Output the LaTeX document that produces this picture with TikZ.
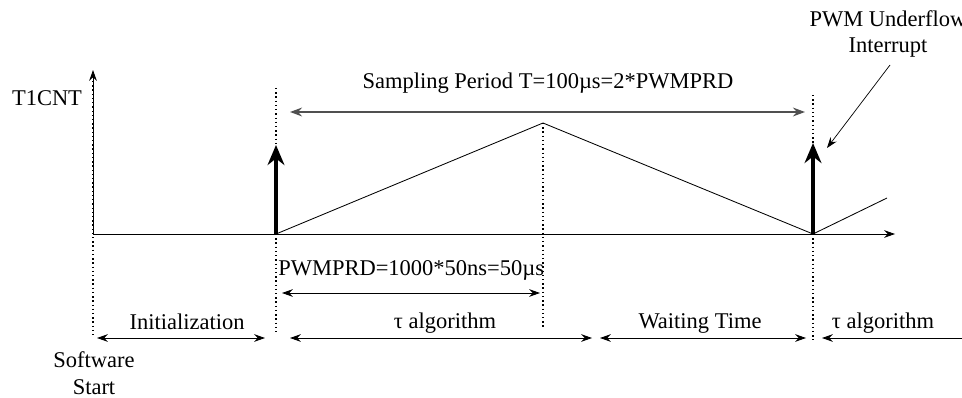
\documentclass[tikz,border=0pt]{standalone}
\usepackage{fontspec}
\setmainfont{Liberation Serif}
\usetikzlibrary{arrows.meta}
\definecolor{periodgray}{RGB}{80,80,80}

\begin{document}
\begin{tikzpicture}[x=1cm,y=1cm,line join=round,
    font=\fontsize{16}{19}\selectfont,
    span/.style={{Stealth[length=0.27cm,width=0.19cm]}-{Stealth[length=0.27cm,width=0.19cm]},line width=0.6pt},
    guide/.style={dotted,line width=1pt},
    pulse/.style={-{Stealth[length=0.5cm,width=0.42cm]},line width=2.8pt}]
    \useasboundingbox (0,0) rectangle (24.05,9.925);

    % Puntos de referencia
    \coordinate (O) at (2.325,4.075);
    \coordinate (xend) at (22.375,4.075);
    \coordinate (yend) at (2.325,8.175);
    \coordinate (A0) at (6.90,4.075);
    \coordinate (A1) at (6.90,6.30);
    \coordinate (Atop) at (6.90,7.725);
    \coordinate (B0) at (20.325,4.075);
    \coordinate (B1) at (20.325,6.35);
    \coordinate (Btop) at (20.325,7.55);
    \coordinate (peak) at (13.575,6.85);
    \coordinate (tail) at (22.175,4.975);

    % Ejes
    \draw[line width=0.6pt,-{Stealth[length=0.27cm,width=0.19cm]}] (O) -- (xend);
    \draw[line width=0.6pt,-{Stealth[length=0.27cm,width=0.19cm]}] (O) -- (yend);
    \node (cnt) at (1.175,7.475) {T1CNT};

    % Contador triangular
    \draw[line width=0.6pt] (A0) -- (peak) -- (B0) -- (tail);

    % Lineas guia
    \draw[guide] (2.325,7.90) -- (2.325,1.55);
    \draw[guide] (Atop) -- (A1);
    \draw[guide] (A0) -- (6.90,1.55);
    \draw[guide] (peak) -- (13.575,1.725);
    \draw[guide] (Btop) -- (B1);
    \draw[guide] (B0) -- (20.325,1.425);

    % Interrupciones
    \draw[pulse] (A0) -- (A1);
    \draw[pulse] (B0) -- (B1);
    \node[align=center,inner sep=1pt] (irq) at (22.20,9.075)
        {PWM Underflow\\Interrupt};
    \coordinate (irqtip) at (20.675,6.225);
    \draw[-{Stealth[length=0.27cm,width=0.19cm]},line width=0.5pt]
        (22.25,8.30) -- (irqtip);

    % Periodo de muestreo
    \coordinate (T0) at (7.25,7.125);
    \coordinate (T1) at (20.125,7.125);
    \draw[periodgray,line width=1.3pt,
        {Stealth[length=0.3cm,width=0.22cm]}-{Stealth[length=0.3cm,width=0.22cm]}] (T0) -- (T1);
    \node (period) at (13.70,7.85) {Sampling Period T=100µs=2*PWMPRD};

    % Medio periodo
    \coordinate (P0) at (7.05,2.60);
    \coordinate (P1) at (13.50,2.60);
    \draw[span] (P0) -- (P1);
    \node[anchor=west,inner sep=0pt] (prd) at (6.95,3.175) {PWMPRD=1000*50ns=50µs};

    % Fases del programa
    \coordinate (I0) at (2.425,1.475);
    \coordinate (I1) at (6.625,1.475);
    \coordinate (G0) at (7.25,1.475);
    \coordinate (G1) at (14.80,1.475);
    \coordinate (W0) at (15.00,1.475);
    \coordinate (W1) at (20.15,1.475);
    \coordinate (R0) at (20.55,1.475);
    \coordinate (R1) at (24.60,1.475);
    \draw[span] (I0) -- (I1);
    \draw[span] (G0) -- (G1);
    \draw[span] (W0) -- (W1);
    \draw[span] (R0) -- (R1);
    \node (init) at (4.675,1.875) {Initialization};
    \node (alg) at (11.125,1.85) {τ algorithm};
    \node (wait) at (17.50,1.85) {Waiting Time};
    \node (algnext) at (22.075,1.85) {τ algorithm};

    \node[align=center] (start) at (2.35,0.60) {Software\\Start};
\end{tikzpicture}
\end{document}
